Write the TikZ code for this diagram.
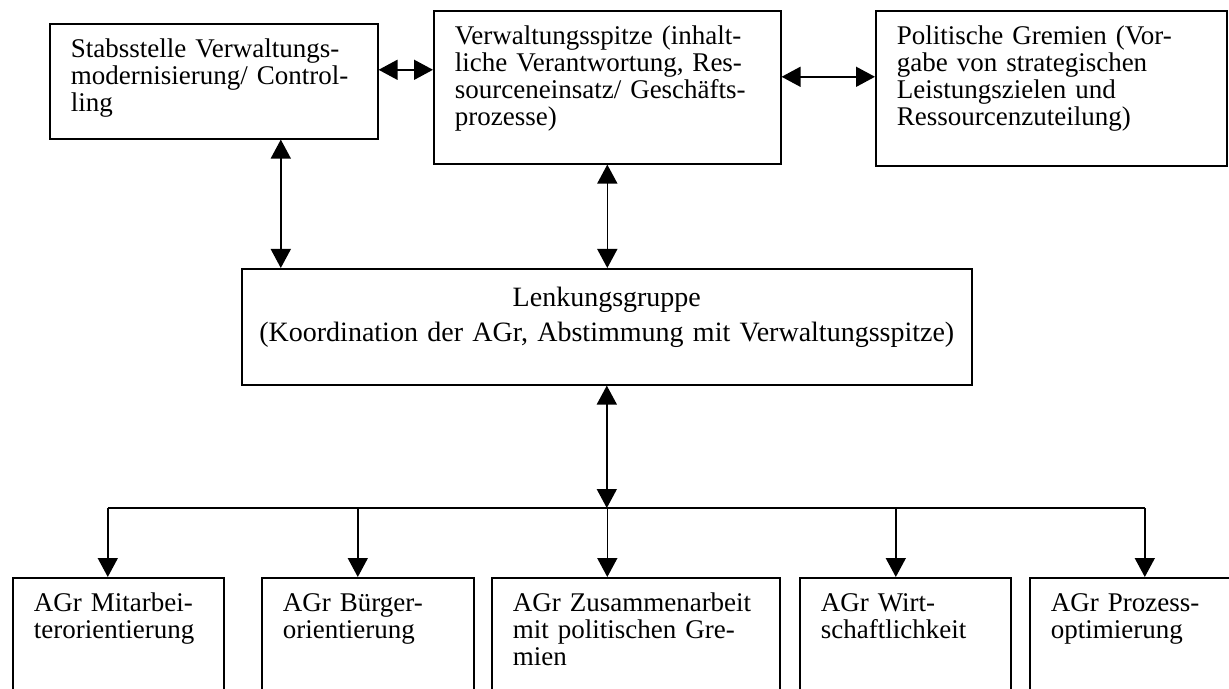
\documentclass[tikz,border=0pt]{standalone}
\usepackage{fontspec}
\setmainfont{Liberation Serif}
\usetikzlibrary{arrows.meta}

\tikzset{
  box/.style={draw, line width=0.8pt, anchor=north west, align=left,
    inner xsep=10.5pt, inner ysep=8pt, text height=8.85pt,
    font=\fontsize{13.5}{13.5}\selectfont},
  line/.style={line width=0.8pt},
  arr/.style={line, -{Triangle[length=9.5pt,width=10pt]}},
  dbl/.style={line, {Triangle[length=9.5pt,width=10pt]}-{Triangle[length=9.5pt,width=10pt]}},
}

\begin{document}
\begin{tikzpicture}[x=0.5pt, y=-0.5pt]
\useasboundingbox (0,0) rectangle (1229,689);
\clip (0,0) rectangle (1229,689);

% top row
\node[box, text width=143pt, text depth=32.65pt] (stab) at (49,23)
  {Stabsstelle Verwaltungs-\\modernisierung/ Control-\\ling};
\node[box, text width=152.5pt, text depth=51.65pt] (verw) at (433,10)
  {Verwaltungsspitze (inhalt-\\liche Verantwortung, Res-\\sourceneinsatz/ Geschäfts-\\prozesse)};
\node[box, text width=154.5pt, text depth=52.65pt] (polit) at (875,10)
  {Politische Gremien (Vor-\\gabe von strategischen\\Leistungszielen und\\Ressourcenzuteilung)};

% steering group
\node[box, align=center, inner xsep=3pt, text width=359pt, text height=10.75pt, text depth=31.25pt,
  font=\fontsize{14}{14.5}\selectfont] (lenk) at (241,268)
  {Lenkungsgruppe\\[3pt](Koordination der AGr, Abstimmung mit Verwaltungsspitze)};

% working groups
\node[box, text width=84.5pt, text depth=45.15pt] (agr1) at (12,577) {AGr Mitarbei-\\terorientierung};
\node[box, text width=85pt, text depth=45.15pt] (agr2) at (261,577) {AGr Bürger-\\orientierung};
\node[box, text width=123pt, text depth=45.15pt] (agr3) at (491,577) {AGr Zusammenarbeit\\mit politischen Gre-\\mien};
\node[box, text width=84.5pt, text depth=45.15pt] (agr4) at (799,577) {AGr Wirt-\\schaftlichkeit};
\node[box, text width=84.5pt, text depth=45.15pt] (agr5) at (1029,577) {AGr Prozess-\\optimierung};

% connectors
\draw[dbl] ([yshift=5.75pt]stab.east) -- ([yshift=5.75pt]stab.east -| verw.west);
\draw[dbl] ([yshift=5.25pt]verw.east) -- ([yshift=5.25pt]verw.east -| polit.west);
\draw[dbl] ([xshift=33.5pt]stab.south) -- ([xshift=33.5pt]stab.south |- lenk.north);
\draw[dbl] (verw.south) -- (verw.south |- lenk.north);

\coordinate (bus) at (606.5,508);
\draw[dbl] (lenk.south) -- (lenk.south |- bus);
\draw[line] ([xshift=-5.25pt]agr1.north |- bus) -- ([xshift=4.75pt]agr5.north |- bus);
\foreach \n/\dx in {agr1/-5.25, agr2/-5, agr3/-14.25, agr4/-4.75, agr5/4.75}
  \draw[arr] ([xshift=\dx pt]\n.north |- bus) -- ([xshift=\dx pt]\n.north);
\end{tikzpicture}
\end{document}
